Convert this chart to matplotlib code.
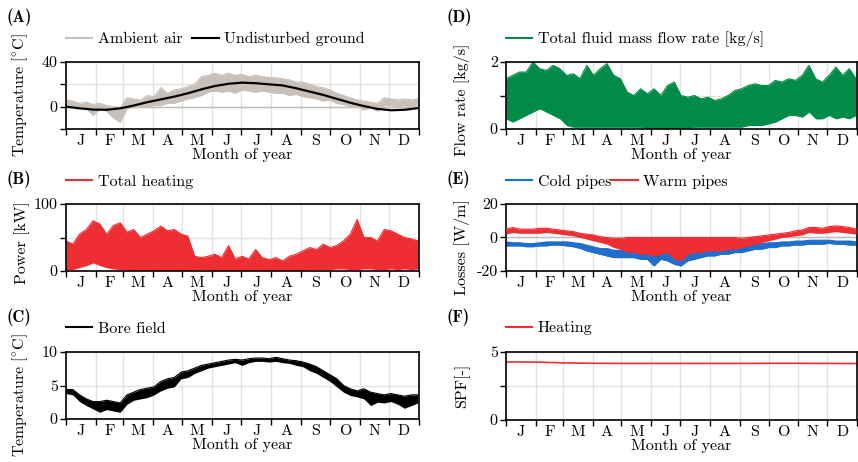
import numpy as np
import matplotlib
matplotlib.use('Agg')
import matplotlib.pyplot as plt

plt.rcParams['font.family'] = 'serif'
plt.rcParams['font.serif'] = ['cmr10']
plt.rcParams['mathtext.fontset'] = 'cm'
plt.rcParams['axes.unicode_minus'] = False
plt.rcParams['font.size'] = 11.5

# month boundaries (day of year) and labels
month_edges = [0, 31, 59, 90, 120, 151, 181, 212, 243, 273, 304, 334, 365]
month_names = ['J', 'F', 'M', 'A', 'M', 'J', 'J', 'A', 'S', 'O', 'N', 'D']

# sample days for the band data (weekly)
week_days = list(range(0, 365, 7))

# (A) ambient air band [degC], low / high per week
air_low = [1, 0, -1, -1, -8, -2, -4, -10, -14, -2, -1, 0, 0, 1, 1, 3, 3, 5, 7, 8,
           10, 13, 14, 13, 14, 12, 15, 14, 13, 14, 13, 12, 12, 10, 11, 9, 8, 7, 5, 6,
           3, 2, 0, 0, -3, -1, -4, 1, 1, 0, 1, 0, 1]
air_high = [6, 5, 3, 4, 2, 3, 1, 0, -1, 8, 7, 6, 10, 9, 17, 12, 15, 16, 18, 20,
            27, 28, 30, 28, 30, 28, 29, 27, 28, 27, 26, 26, 25, 24, 22, 22, 20, 18, 17, 15,
            12, 10, 8, 6, 5, 4, 3, 8, 7, 6, 7, 6, 7]
# (A) undisturbed ground [degC]
ground_days = [0, 14, 28, 42, 56, 70, 84, 98, 112, 126, 140, 154, 168, 182, 196,
               210, 224, 238, 252, 266, 280, 294, 308, 322, 336, 350, 365]
ground_temp = [0, -1.5, -2.6, -2.8, -1.5, 1, 4, 6.5, 9, 12, 15.5, 18.5, 20.5, 21.5, 21,
               20, 19, 16.5, 13.5, 10.5, 7, 3.5, 0.5, -2, -3.2, -2.8, -1.2]

# (B) total heating [kW]
heat_low = [2, 2, 5, 8, 12, 8, 5, 3, 2, 2, 1, 1, 1, 1, 1, 1, 1, 1, 1, 2,
            2, 2, 1, 1, 1, 1, 1, 1, 1, 1, 1, 1, 1, 1, 1, 1, 2, 2, 2, 2,
            3, 3, 2, 2, 3, 3, 2, 2, 3, 2, 3, 2, 3]
heat_high = [45, 40, 55, 62, 75, 70, 55, 68, 72, 58, 62, 50, 55, 60, 67, 60, 62, 55, 52, 22,
             20, 22, 25, 20, 38, 18, 22, 18, 32, 20, 17, 20, 15, 22, 25, 30, 35, 32, 40, 35,
             38, 45, 55, 77, 50, 50, 45, 62, 60, 55, 50, 48, 45]

# (C) bore field temperature [degC]
bore_low = [3.8, 3.6, 2.6, 2.0, 1.5, 1.0, 1.4, 1.2, 1.0, 2.2, 2.8, 3.0, 3.2, 3.6, 4.2, 4.6, 4.8, 6.0, 6.2, 6.8,
            7.2, 7.6, 7.8, 8.0, 8.2, 8.4, 8.0, 8.4, 8.6, 8.6, 8.5, 8.6, 8.4, 8.3, 8.0, 7.8, 7.2, 6.8, 6.2, 5.6,
            4.8, 4.0, 3.5, 3.3, 3.0, 2.0, 2.5, 2.4, 2.6, 2.2, 1.6, 2.0, 2.4]
bore_high = [4.4, 4.4, 3.6, 3.0, 2.6, 2.6, 2.8, 2.6, 2.4, 3.6, 4.0, 4.4, 4.6, 4.8, 5.6, 6.0, 6.2, 7.0, 7.2, 7.6,
             8.0, 8.2, 8.4, 8.6, 8.8, 8.9, 8.8, 9.0, 9.1, 9.1, 9.0, 9.2, 9.0, 8.8, 8.7, 8.5, 8.2, 7.8, 7.2, 6.6,
             6.0, 5.0, 4.5, 4.2, 4.5, 4.0, 3.8, 3.6, 3.8, 3.6, 3.4, 3.6, 3.6]

# (D) total fluid mass flow rate [kg/s]
flow_low = [0.3, 0.2, 0.3, 0.4, 0.5, 0.6, 0.5, 0.4, 0.3, 0.1, 0.05, 0.05, 0.05, 0.05, 0.05, 0.05, 0.05, 0.05, 0.05, 0.05,
            0.05, 0.02, 0.02, 0.02, 0.02, 0.02, 0.02, 0.02, 0.05, 0.05, 0.05, 0.05, 0.05, 0.05, 0.05, 0.05, 0.1, 0.1, 0.1, 0.15,
            0.2, 0.3, 0.4, 0.4, 0.35, 0.5, 0.3, 0.3, 0.4, 0.3, 0.35, 0.3, 0.4]
flow_high = [1.5, 1.6, 1.7, 1.7, 2.0, 1.8, 1.75, 1.9, 1.8, 1.6, 1.65, 1.5, 1.9, 1.6, 1.8, 1.95, 1.6, 1.5, 1.1, 1.0,
             1.2, 1.05, 1.2, 1.0, 1.3, 1.4, 1.0, 0.95, 1.0, 0.9, 0.95, 0.85, 0.9, 1.0, 1.15, 1.2, 1.3, 1.35, 1.3, 1.3,
             1.45, 1.4, 1.5, 1.45, 1.6, 1.9, 1.5, 1.4, 1.6, 1.85, 1.6, 1.8, 1.5]

# (E) pipe losses [W/m]
warm_low = [2, 3, 2.5, 2.5, 2.5, 2.5, 3, 2.5, 2, 1.5, 1, 0, -1, -2, -3, -4, -6, -7, -9, -9,
            -10, -10, -11, -10, -9, -13, -14, -10, -9, -9, -8, -8, -8, -7, -7, -6, -5, -4, -3, -2,
            -1, 0, 0.5, 1, 1.5, 3, 2.5, 2.5, 3, 3.5, 3, 2.5, 2]
warm_high = [5, 6, 5, 5, 5, 5.5, 5.5, 5, 4.5, 4, 3.5, 2.5, 2, 1.5, 0.5, 0, -0.5, -0.5, 0, 0,
             0, 0, 0, 0, 0, 0, 0, 0, 0, 0, 0, 0, 0, 0, 0, -0.5, 0, 0.5, 1, 1.5,
             2, 2.5, 3, 4, 4.5, 6, 6, 5.5, 6.5, 7, 6.5, 6, 5]
cold_low = [-5, -5, -5, -5.5, -5.5, -5, -5, -4.5, -4.5, -5, -5.5, -6.5, -8, -9, -10, -11, -12, -12, -12, -12,
            -13, -13, -17, -13, -14, -16, -17, -14, -13, -12, -11, -11, -10, -10, -9, -9, -8, -7, -7, -6,
            -6, -5, -5, -4.5, -4.5, -4, -4, -4, -3.5, -4, -4, -4.5, -4.5]
cold_high = [-2, -2.5, -2.5, -3, -3, -2.5, -2, -2, -2, -2, -2.5, -3, -4, -5, -6, -6, -7, -7, -7, -8,
             -8, -8, -8, -8, -8, -9, -9, -8, -8, -7, -7, -6, -6, -6, -5, -5, -4, -3.5, -3, -2.5,
             -2.5, -2, -2, -1.5, -1.5, -1, -1, -1, -1, -1.5, -1.5, -1.5, -2]

# (F) seasonal performance factor
spf_days = month_edges
spf_heating = [4.27, 4.26, 4.2, 4.17, 4.16, 4.16, 4.16, 4.16, 4.16, 4.17, 4.17, 4.16, 4.15]

c_air = '#c9c0ba'
c_red = '#ee2e33'
c_green = '#008b46'
c_blue = '#1f6dcc'

fig = plt.figure(figsize=(8.58, 4.62), dpi=100)
W, H = 858, 462


def make_ax(left, top, right, bottom):
    return fig.add_axes([left / W, 1 - bottom / H, (right - left) / W, (bottom - top) / H])


def style(ax, ylim, yticks, ylabels, ylabel, letter, letter_xy, leg_y,
          zero_line=False, colsp=0.6, lab_shift=0):
    ax.set_xlim(0, 365)
    ax.set_ylim(*ylim)
    ax.set_xticks(month_edges)
    ax.set_xticklabels([])
    centers = [(month_edges[i] + month_edges[i + 1]) / 2 for i in range(12)]
    ax.set_xticks(centers, minor=True)
    ax.set_xticklabels(month_names, minor=True)
    ax.tick_params(axis='x', which='minor', length=0, pad=4)
    ax.tick_params(axis='x', which='major', length=4, width=1, direction='out')
    ax.set_yticks(yticks)
    ax.set_yticklabels(ylabels)
    ax.tick_params(axis='y', length=4, width=1, pad=2)
    ax.grid(True, which='major', color='#e3e3e3', lw=1)
    ax.set_axisbelow(True)
    if zero_line:
        ax.axhline(0, color='#bdbdbd', lw=1, zorder=1)
    for s in ax.spines.values():
        s.set_linewidth(1.2)
    ax.set_xlabel('Month of year', labelpad=0)
    ax.set_ylabel(ylabel)
    # label centre moved down by lab_shift pixels, as in the reference
    ax.yaxis.set_label_coords(-0.103, 0.5 - lab_shift / 67)
    fig.text(letter_xy[0] / W, 1 - letter_xy[1] / H, letter, family='cmb10',
             fontsize=12, va='center', ha='left')
    leg = ax.legend(loc='center left', bbox_to_anchor=(0, leg_y), ncol=2, frameon=False,
                    borderaxespad=0, borderpad=0, handlelength=1.65, handletextpad=0.35,
                    columnspacing=colsp)
    for h in leg.legend_handles:
        h.set_linewidth(1.5)


# (A)
axA = make_ax(66, 62, 419, 129)
axA.fill_between(week_days, air_low, air_high, color=c_air, lw=0, zorder=2)
axA.plot(week_days, air_high, color=c_air, lw=0.8, zorder=2, label='Ambient air')
axA.plot(week_days, air_low, color=c_air, lw=0.8, zorder=2)
axA.plot(ground_days, ground_temp, color='black', lw=1.6, zorder=3, label='Undisturbed ground')
style(axA, (-20, 40), [-20, 0, 20, 40], ['', '0', '', '40'], r'Temperature [$^{\circ}$C]',
      '(A)', (7, 17), 1.34, zero_line=True)

# (B)
axB = make_ax(66, 204, 419, 271)
axB.fill_between(week_days, heat_low, heat_high, color=c_red, lw=0, zorder=2)
axB.plot(week_days, heat_high, color=c_red, lw=0.8, zorder=2, label='Total heating')
style(axB, (0, 100), [0, 50, 100], ['0', '', '100'], 'Power [kW]',
      '(B)', (7, 179), 1.33, lab_shift=5)

# (C)
axC = make_ax(66, 352, 419, 419)
axC.fill_between(week_days, bore_low, bore_high, color='black', lw=0, zorder=2)
axC.plot(week_days, bore_high, color='black', lw=0.8, zorder=2, label='Bore field')
style(axC, (0, 10), [0, 5, 10], ['0', '5', '10'], r'Temperature [$^{\circ}$C]',
      '(C)', (7, 317), 1.35, lab_shift=10)

# (D)
axD = make_ax(506, 62, 857, 129)
axD.fill_between(week_days, flow_low, flow_high, color=c_green, lw=0, zorder=2)
axD.plot(week_days, flow_high, color=c_green, lw=0.8, zorder=2,
         label='Total fluid mass flow rate [kg/s]')
style(axD, (0, 2), [0, 1, 2], ['0', '', '2'], 'Flow rate [kg/s]',
      '(D)', (447, 17), 1.34, lab_shift=4)

# (E)
axE = make_ax(506, 204, 857, 271)
axE.fill_between(week_days, cold_low, cold_high, color=c_blue, lw=0, zorder=2)
axE.plot(week_days, cold_low, color=c_blue, lw=0.8, zorder=2, label='Cold pipes')
axE.fill_between(week_days, warm_low, warm_high, color=c_red, lw=0, zorder=3)
axE.plot(week_days, warm_high, color=c_red, lw=0.8, zorder=3, label='Warm pipes')
style(axE, (-20, 20), [-20, 0, 20], ['-20', '0', '20'], 'Losses [W/m]',
      '(E)', (447, 179), 1.33, zero_line=True, colsp=0.0, lab_shift=10)

# (F)
axF = make_ax(506, 352, 857, 420)
axF.plot(spf_days, spf_heating, color=c_red, lw=1.2, label='Heating')
style(axF, (0, 5), [0, 2.5, 5], ['0', '', '5'], 'SPF[-]',
      '(F)', (447, 317), 1.35)

fig.savefig('out.png', dpi=100)
